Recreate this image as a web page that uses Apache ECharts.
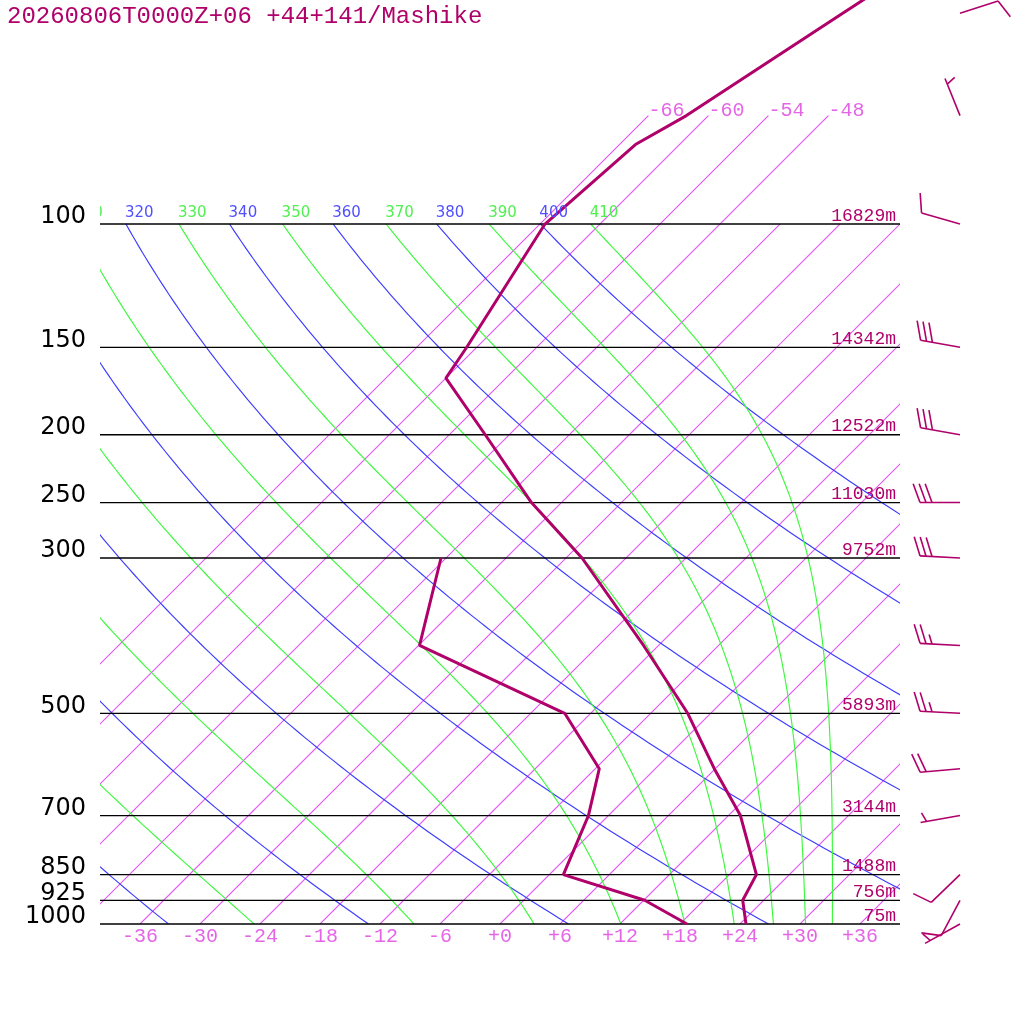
<!DOCTYPE html>
<html><head><meta charset="utf-8">
<script src="https://cdn.jsdelivr.net/npm/echarts@6/dist/echarts.min.js"></script>
<style>html,body{margin:0;padding:0;background:#fff}#c{width:1024px;height:1024px}</style>
</head><body><div id="c"></div>
<script>
// ---------------- data ----------------
const titleText = '20260806T0000Z+06 +44+141/Mashike';
const pressureLevels = [100, 150, 200, 250, 300, 500, 700, 850, 925, 1000];
const pressureLabels = ['100', '150', '200', '250', '300', '500', '700', '850', '925', '1000'];
const heightLabels = ['16829m', '14342m', '12522m', '11030m', '9752m', '5893m', '3144m', '1488m', '756m', '75m'];
const tempTicks = [-36, -30, -24, -18, -12, -6, 0, 6, 12, 18, 24, 30, 36];
const isotherms = [-66, -60, -54, -48, -42, -36, -30, -24, -18, -12, -6, 0, 6, 12, 18, 24, 30, 36];
const isothermsToTop = [-66, -60, -54, -48];
const dryThetas = [240, 260, 280, 300, 320, 340, 360, 380, 400];
const moistThetaEs = [250, 270, 290, 310, 330, 350, 370, 390, 410];
const adiabatLabels = [310, 320, 330, 340, 350, 360, 370, 380, 390, 400, 410];
// temperature profile (hPa, degC)
const tempP = [1000, 925, 850, 700, 600, 500, 400, 300, 250, 200, 166, 150, 100, 77, 70, 50, 30];
const tempT = [24.6, 21.9, 20.7, 13.2, 5.9, -2.3, -13.5, -28.4, -39.0, -50.4, -60.0, -61.0, -65.5, -64.4, -62.2, -56.8, -48.5];
// dew point profile
const dewP = [1000, 925, 850, 700, 600, 500, 400, 300];
const dewT = [18.7, 12.1, 1.4, -2.0, -5.6, -14.6, -35.9, -42.5];
// winds (hPa, direction deg, speed kt)
const windP = [1000, 925, 850, 700, 600, 500, 400, 300, 250, 200, 150, 100, 70, 50];
const windDir = [241, 208, 226, 260, 265, 273, 273, 273, 270, 280, 280, 286, 338, 72];
const windSpd = [5, 10, 10, 5, 20, 25, 25, 30, 30, 30, 30, 10, 5, 10];

// ---------------- helpers ----------------
const SKEW = 30.4;           // skew: degC per unit ln(1000/p)
const TOP_P = 70;            // top of isotherms
const KAPPA = 0.2857;
const Yof = p => Math.log(1000 / p);
const Xof = (T, p) => T + SKEW * Yof(p);
const BARB_X = 46;           // x position (in skewed-temperature units) of barb roots

const PROFILE = '#b0006a';
const ISO = '#e454f8';
const BLUE = '#3c3cff';
const GREEN = '#3cf83c';
const MONO = '"Liberation Mono", "DejaVu Sans Mono", monospace';
const SANS = '"DejaVu Sans", sans-serif';

function thetaE(Tc, p) {
  const T = Tc + 273.15;
  const es = 6.112 * Math.exp(17.67 * Tc / (Tc + 243.5));
  if (es > p * 0.5) return 1e9;
  const r = 622 * es / (p - es);
  return T * Math.pow(1000 / p, 0.2854 * (1 - 0.00028 * r)) *
    Math.exp((3.376 / T - 0.00254) * r * (1 + 0.00081 * r));
}
function moistT(te, p) {
  let lo = -140, hi = 60;
  for (let k = 0; k < 60; k++) {
    const m = (lo + hi) / 2;
    if (thetaE(m, p) > te) hi = m; else lo = m;
  }
  return (lo + hi) / 2;
}
const dryT = (th, p) => th * Math.pow(p / 1000, KAPPA) - 273.15;

const adiP = [];
for (let i = 0; i <= 120; i++) adiP.push(1000 * Math.pow(0.1, i / 120));

const series = [];

// polyline helper (custom series, clipped to the plot)
function addPolyline(points, color, width, z) {
  series.push({
    type: 'custom', coordinateSystem: 'cartesian2d', silent: true, animation: false, z: z, clip: true,
    data: points,
    renderItem: (params, api) => {
      if (params.dataIndex !== 0) return null;
      const pts = points.map(pt => api.coord(pt));
      return { type: 'polyline', shape: { points: pts }, style: { stroke: color, lineWidth: width, fill: null } };
    }
  });
}

// isotherms
isotherms.forEach(T => {
  const pt = isothermsToTop.includes(T) ? TOP_P : 100;
  addPolyline([[Xof(T, 1000), Yof(1000)], [Xof(T, pt), Yof(pt)]], ISO, 1.1, 1);
});
// dry adiabats
dryThetas.forEach(th => {
  addPolyline(adiP.map(p => [Xof(dryT(th, p), p), Yof(p)]), BLUE, 1.15, 1);
});
// moist adiabats
moistThetaEs.forEach(te => {
  addPolyline(adiP.map(p => [Xof(moistT(te, p), p), Yof(p)]), GREEN, 1.15, 1);
});

// pressure lines
series.push({
  type: 'custom', coordinateSystem: 'cartesian2d', silent: true, animation: false, z: 3, clip: false,
  data: pressureLevels.map(p => [-40, Yof(p)]),
  renderItem: (params, api) => {
    const y = api.value(1);
    const a = api.coord([-40, y]), b = api.coord([40, y]);
    return { type: 'line', shape: { x1: a[0], y1: a[1], x2: b[0], y2: b[1] }, style: { stroke: '#000', lineWidth: 1.3 } };
  }
});

// profiles
function addLine(points, color, width, z) {
  series.push({
    type: 'line', data: points, showSymbol: false, symbol: 'none', clip: true,
    silent: true, animation: false, z: z, color: color,
    lineStyle: { color: color, width: width }
  });
}
addLine(tempP.map((p, i) => [Xof(tempT[i], p), Yof(p)]), PROFILE, 3, 5);
addLine(dewP.map((p, i) => [Xof(dewT[i], p), Yof(p)]), PROFILE, 3, 5);

// text helper
function textSeries(items, clip) {
  series.push({
    type: 'custom', coordinateSystem: 'cartesian2d', silent: true, animation: false, z: 6, clip: clip,
    data: items.map(it => [it.x, it.y]),
    renderItem: (params, api) => {
      const it = items[params.dataIndex];
      const c = api.coord([it.x, it.y]);
      return {
        type: 'text', x: c[0] + (it.dx || 0), y: c[1] + (it.dy || 0),
        style: {
          text: it.text, fill: it.color, font: it.font,
          align: it.align, verticalAlign: 'middle'
        }
      };
    }
  });
}

// pressure labels (left)
textSeries(pressureLevels.map((p, i) => ({
  x: -40, y: Yof(p), dx: -14, dy: -7, text: pressureLabels[i], color: '#000',
  font: '24px ' + SANS, align: 'right'
})), false);
// height labels (right)
textSeries(pressureLevels.map((p, i) => ({
  x: 40, y: Yof(p), dx: -4, dy: -8, text: heightLabels[i], color: PROFILE,
  font: '18px ' + MONO, align: 'right'
})), false);
// temperature tick labels (bottom)
textSeries(tempTicks.map(T => ({
  x: Xof(T, 1000), y: Yof(1000), dx: 0, dy: 13, text: (T >= 0 ? '+' : '-') + Math.abs(T),
  color: '#e466e6', font: '20px ' + MONO, align: 'center'
})), false);
// isotherm labels (top)
textSeries(isothermsToTop.map(T => ({
  x: Xof(T, TOP_P), y: Yof(TOP_P), dx: 0, dy: -5, text: '-' + Math.abs(T),
  color: '#e466e6', font: '20px ' + MONO, align: 'left'
})), false);
// adiabat labels at 100 hPa (clipped to plot)
textSeries(adiabatLabels.map(v => {
  const dry = dryThetas.includes(v);
  const T = dry ? dryT(v, 100) : moistT(v, 100);
  return {
    x: Xof(T, 100), y: Yof(100), dx: -1, dy: -11, text: String(v),
    color: dry ? '#5050ff' : '#50f050', font: '15px ' + SANS, align: 'left'
  };
}), true);

// wind barbs
series.push({
  type: 'custom', coordinateSystem: 'cartesian2d', silent: true, animation: false, z: 6, clip: false,
  data: windP.map((p, i) => [BARB_X, Yof(p), windDir[i], windSpd[i]]),
  renderItem: (params, api) => {
    const s = api.coord([BARB_X, api.value(1)]);
    const d = api.value(2) * Math.PI / 180;
    const spd = api.value(3);
    const ux = Math.sin(d), uy = -Math.cos(d);
    const L = 40, SP = 6, LONG = 20, SHORT = 10;
    const tip = [s[0] + ux * L, s[1] + uy * L];
    const a = 70 * Math.PI / 180;
    const fx = Math.cos(a) * ux - Math.sin(a) * uy;
    const fy = Math.sin(a) * ux + Math.cos(a) * uy;
    const style = { stroke: PROFILE, lineWidth: 1.6 };
    const children = [{ type: 'line', shape: { x1: s[0], y1: s[1], x2: tip[0], y2: tip[1] }, style }];
    const n = Math.floor(spd / 10);
    const half = (spd % 10) >= 5;
    let pos = (n === 0 && half) ? 1 : 0;
    for (let k = 0; k < n; k++, pos++) {
      const bx = tip[0] - ux * SP * pos, by = tip[1] - uy * SP * pos;
      children.push({ type: 'line', shape: { x1: bx, y1: by, x2: bx + fx * LONG, y2: by + fy * LONG }, style });
    }
    if (half) {
      const bx = tip[0] - ux * SP * pos, by = tip[1] - uy * SP * pos;
      children.push({ type: 'line', shape: { x1: bx, y1: by, x2: bx + fx * SHORT, y2: by + fy * SHORT }, style });
    }
    return { type: 'group', children };
  }
});

const chart = echarts.init(document.getElementById('c'), null, { renderer: 'canvas' });
chart.setOption({
  animation: false,
  backgroundColor: '#fff',
  title: {
    text: titleText, left: 2, top: 0,
    textStyle: { fontFamily: 'Liberation Mono', fontSize: 24, fontWeight: 'normal', color: PROFILE }
  },
  grid: { left: 100, right: 124, top: 0, bottom: 100, containLabel: false },
  xAxis: { type: 'value', min: -40, max: 40, show: false },
  yAxis: { type: 'value', min: 0, max: 924 / 304, show: false },
  series: series
});
</script>
</body></html>
